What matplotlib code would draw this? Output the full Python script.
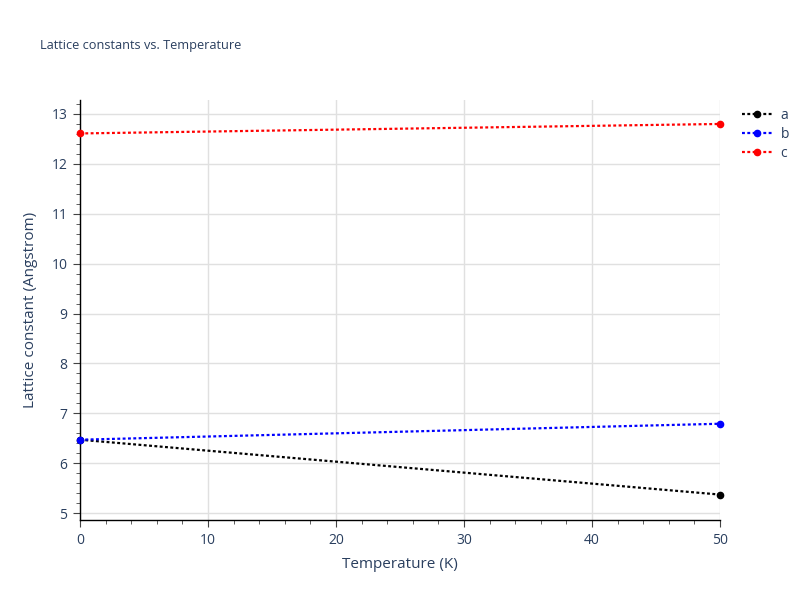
import matplotlib
matplotlib.use("Agg")
import matplotlib.pyplot as plt
from matplotlib.ticker import MultipleLocator

plt.rcParams['font.family'] = ['Open Sans', 'DejaVu Sans']

# dados
temperature = [0, 50]
lattice_a = [6.47, 5.37]
lattice_b = [6.47, 6.79]
lattice_c = [12.61, 12.80]
series_names = ['a', 'b', 'c']
series_colors = ['black', 'blue', 'red']

text_color = '#2a3f5f'

fig = plt.figure(figsize=(8, 6), dpi=100)
ax = fig.add_axes([0.1, 0.1333, 0.8, 0.7])

for vals, name, col in zip([lattice_a, lattice_b, lattice_c], series_names, series_colors):
    ax.plot(temperature, vals, color=col, lw=1.6, linestyle=(0, (1.3, 1.1)),
            marker='o', markersize=4.5, label=name, clip_on=False, zorder=3)

ax.set_xlim(0, 50)
ax.set_ylim(4.86, 13.28)
ax.xaxis.set_major_locator(MultipleLocator(10))
ax.xaxis.set_minor_locator(MultipleLocator(2))
ax.yaxis.set_major_locator(MultipleLocator(1))
ax.yaxis.set_minor_locator(MultipleLocator(0.2))

ax.grid(True, which='major', color='#e0e0e0', lw=1)
ax.set_axisbelow(True)
for s in ['top', 'right']:
    ax.spines[s].set_visible(False)
for s in ['left', 'bottom']:
    ax.spines[s].set_color('black')
    ax.spines[s].set_linewidth(1)

ax.tick_params(which='major', length=5, color='#444444', labelsize=10, labelcolor=text_color, pad=4)
ax.tick_params(which='minor', length=3, color='#444444')

ax.set_xlabel('Temperature (K)', fontsize=11, color=text_color, labelpad=7)
ax.set_ylabel('Lattice constant (Angstrom)', fontsize=11, color=text_color, labelpad=10)

fig.text(0.05, 0.925, 'Lattice constants vs. Temperature', fontsize=9.2, color=text_color,
         va='center', ha='left')

leg = ax.legend(loc='upper left', bbox_to_anchor=(1.025, 0.995), frameon=False,
                fontsize=10, labelcolor=text_color, handlelength=2.2,
                handletextpad=0.6, borderaxespad=0, labelspacing=0.3)

fig.savefig('out.png', dpi=100)
